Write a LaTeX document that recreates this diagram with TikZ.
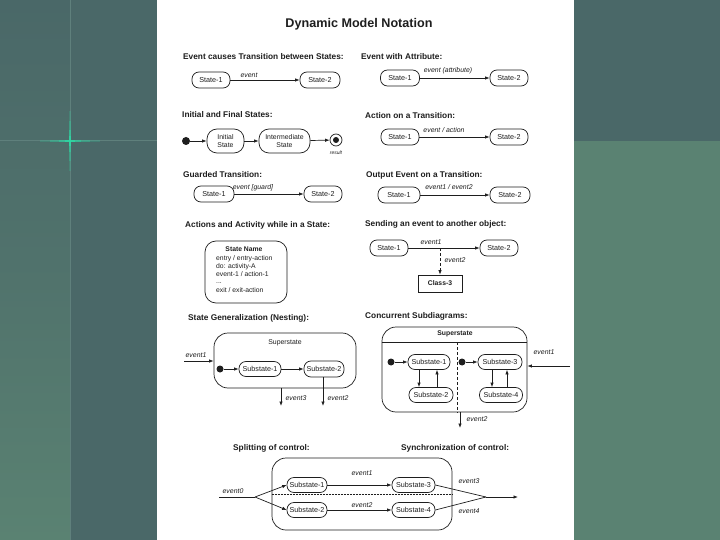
\documentclass[tikz,border=0pt]{standalone}
\usepackage{fontspec}
\setmainfont{Liberation Sans}
\usetikzlibrary{arrows.meta}
\definecolor{bgA}{HTML}{4A6868}
\definecolor{bgB}{HTML}{5A8272}
\definecolor{rule}{HTML}{5F807C}
\definecolor{glow}{HTML}{2FD8A4}
\definecolor{ink}{HTML}{1E1E1E}
\tikzset{
  st/.style={draw=ink, line width=0.7pt, rounded corners=7pt, minimum height=16pt,
    minimum width=38pt, inner sep=1pt, text=ink, font=\fontsize{7.2}{7.8}\selectfont, align=center},
  hdr/.style={anchor=west, inner sep=0pt, text=ink, font=\bfseries\fontsize{8.3}{9}\selectfont},
  lbl/.style={inner sep=0pt, text=ink, font=\itshape\fontsize{6.9}{7.4}\selectfont},
  body/.style={anchor=west, inner sep=0pt, text=ink, font=\fontsize{6.8}{7}\selectfont},
  arr/.style={draw=ink, line width=0.7pt, -{Latex[length=4.5pt,width=3.4pt]}},
  ln/.style={draw=ink, line width=0.7pt},
  bigbox/.style={draw=ink, line width=0.7pt, rounded corners=14pt},
  dotnode/.style={circle, fill=ink, inner sep=0pt, minimum size=7pt},
}
\begin{document}
\begin{tikzpicture}[x=1pt,y=-1pt]
\useasboundingbox (0,0) rectangle (720,540);
% background
\fill[bgA] (0,0) rectangle (720,540);
\shade[top color=bgA, bottom color=bgB, middle color=bgA!60!bgB] (0,0) rectangle (70,540);
\fill[bgB] (574,141) rectangle (720,540);
\draw[rule, line width=1pt] (70,0) -- (70,540);
\draw[rule, line width=1pt] (0,141) -- (157,141);
\foreach \L/\o in {30/0.2,20/0.3,11/0.45,5/0.75}{
  \draw[glow, line width=1.2pt, opacity=\o] (70-\L,141) -- (70+\L,141);
  \draw[glow, line width=1.2pt, opacity=\o] (70,141-\L) -- (70,141+\L);
}
\fill[white] (157,0) rectangle (574,540);

% title
\node[inner sep=0pt, text=ink, font=\bfseries\fontsize{12.6}{14}\selectfont] (title) at (359,24) {Dynamic Model Notation};

% 1 Event causes transition
\node[hdr] (h1) at (183,57) {Event causes Transition between States:};
\node[st] (s1a) at (211,80) {State-1};
\node[st, minimum width=40pt] (s1b) at (320,80) {State-2};
\draw[arr] (s1a) -- (s1b);
\node[lbl] (l1) at (249,75) {event};

% 2 Event with attribute
\node[hdr] (h2) at (361,57) {Event with Attribute:};
\node[st, minimum width=39pt] (s2a) at (400,78) {State-1};
\node[st] (s2b) at (509,78) {State-2};
\draw[arr] (s2a) -- (s2b);
\node[lbl] (l2) at (448,71) {event (attribute)};

% 3 Initial and final
\node[hdr] (h3) at (182,115) {Initial and Final States:};
\node[dotnode, minimum size=8pt] (ini) at (186,141) {};
\node[st, minimum width=37pt, minimum height=24pt, rounded corners=10pt, font=\fontsize{6.9}{7.4}\selectfont] (is) at (225.5,141) {Initial\\State};
\node[st, minimum width=51pt, minimum height=24pt, rounded corners=10pt, font=\fontsize{6.9}{7.4}\selectfont] (ms) at (284.5,141) {Intermediate\\State};
\node[circle, draw=ink, line width=0.7pt, minimum size=12pt, inner sep=0pt] (fin) at (336,140) {};
\node[dotnode, minimum size=6pt] (fin2) at (fin) {};
\node[lbl, font=\itshape\fontsize{5}{6}\selectfont] (res) at (336,153) {result};
\draw[arr] (ini) -- (is);
\draw[arr] (is) -- (ms);
\draw[arr] (ms) -- (fin);

% 4 Action on a transition
\node[hdr] (h4) at (365,116) {Action on a Transition:};
\node[st] (s4a) at (400,137) {State-1};
\node[st] (s4b) at (509,137) {State-2};
\draw[arr] (s4a) -- (s4b);
\node[lbl] (l4) at (444,130) {event / action};

% 5 Guarded transition
\node[hdr] (h5) at (183,175) {Guarded Transition:};
\node[st, minimum width=40pt] (s5a) at (214,194) {State-1};
\node[st] (s5b) at (323,194) {State-2};
\draw[arr] (s5a) -- (s5b);
\node[lbl] (l5) at (253,188) {event [guard]};

% 6 Output event
\node[hdr] (h6) at (366,175) {Output Event on a Transition:};
\node[st, minimum width=42pt] (s6a) at (399,195) {State-1};
\node[st, minimum width=40pt] (s6b) at (510,195) {State-2};
\draw[arr] (s6a) -- (s6b);
\node[lbl] (l6) at (449,187) {event1 / event2};

% 7 Actions and activity
\node[hdr] (h7) at (185,225) {Actions and Activity while in a State:};
\node[bigbox, rounded corners=11pt, minimum width=82pt, minimum height=62pt] (sn) at (246,272) {};
\node[inner sep=0pt, text=ink, font=\bfseries\fontsize{6.8}{7}\selectfont] (snt) at (244,249) {State Name};
\node[body] (a1) at (216,258.5) {entry / entry-action};
\node[body] (a2) at (216,266.5) {do: activity-A};
\node[body] (a3) at (216,274.5) {event-1 / action-1};
\node[body] (a4) at (216,283) {...};
\node[body] (a5) at (216,290.5) {exit / exit-action};

% 8 Sending an event
\node[hdr] (h8) at (365,224) {Sending an event to another object:};
\node[st] (s8a) at (389,248) {State-1};
\node[st] (s8b) at (499,248) {State-2};
\draw[arr] (s8a) -- (s8b);
\node[lbl] (l8a) at (431,242) {event1};
\node[draw=ink, line width=0.7pt, minimum width=44pt, minimum height=17pt, inner sep=1pt, text=ink, font=\bfseries\fontsize{6.8}{7}\selectfont] (cl) at (440,283.5) {Class-3};
\coordinate (snd) at (440,248);
\draw[arr, densely dashed] (snd) -- (cl);
\node[lbl] (l8b) at (455,260) {event2};

% 9 Nesting
\node[hdr] (h9) at (188,318) {State Generalization (Nesting):};
\node[bigbox, minimum width=142pt, minimum height=55pt] (sup) at (285,360.5) {};
\node[inner sep=0pt, text=ink, font=\fontsize{6.9}{7}\selectfont] (supt) at (285,343) {Superstate};
\coordinate (e1s) at (184,361);
\draw[arr] (e1s) -- (e1s -| sup.west);
\node[lbl] (l9a) at (196,355) {event1};
\node[dotnode] (d9) at (220,369) {};
\node[st, minimum width=42pt, minimum height=15pt] (n1) at (260,369) {Substate-1};
\node[st, minimum width=40pt, minimum height=16pt] (n2) at (324,369) {Substate-2};
\draw[arr] (d9) -- (n1);
\draw[arr] (n1) -- (n2);
\coordinate (e3e) at (281,406);
\draw[arr] (e3e |- sup.south) -- (e3e);
\node[lbl] (l9b) at (296,398) {event3};
\coordinate (e2e) at (323,406);
\draw[arr] (e2e |- n2.south) -- (e2e);
\node[lbl] (l9c) at (338,398) {event2};

% 10 Concurrent
\node[hdr] (h10) at (365,316) {Concurrent Subdiagrams:};
\node[bigbox, minimum width=145pt, minimum height=85pt] (csup) at (454.5,369.5) {};
\node[inner sep=0pt, text=ink, font=\bfseries\fontsize{6.8}{7}\selectfont] (csupt) at (455,334) {Superstate};
\draw[ln] (csup.west |- 0,342) -- (csup.east |- 0,342);
\coordinate (vtop) at (457,342);
\draw[ln, densely dashed] (vtop) -- (vtop |- csup.south);
\node[dotnode] (dl) at (391,362) {};
\node[st, minimum width=42pt, minimum height=15pt] (c1) at (429,362) {Substate-1};
\node[st, minimum width=44pt, minimum height=15pt] (c2) at (431,395) {Substate-2};
\draw[arr] (dl) -- (c1);
\draw[arr] ([xshift=-10pt]c1.south) -- ([xshift=-10pt]c1.south |- c2.north);
\draw[arr] ([xshift=8pt]c1.south |- c2.north) -- ([xshift=8pt]c1.south);
\node[dotnode] (dr) at (462,362) {};
\node[st, minimum width=44pt, minimum height=15pt] (c3) at (500,362) {Substate-3};
\node[st, minimum width=43pt, minimum height=15pt] (c4) at (501,395) {Substate-4};
\draw[arr] (dr) -- (c3);
\draw[arr] ([xshift=-8pt]c3.south) -- ([xshift=-8pt]c3.south |- c4.north);
\draw[arr] ([xshift=7pt]c3.south |- c4.north) -- ([xshift=7pt]c3.south);
\coordinate (ce1) at (570,366);
\draw[arr] (ce1) -- (ce1 -| csup.east);
\node[lbl] (l10a) at (544,352) {event1};
\coordinate (ce2) at (460,428);
\draw[arr] (ce2 |- csup.south) -- (ce2);
\node[lbl] (l10b) at (477,419) {event2};

% 11 Splitting / synchronization
\node[hdr] (h11a) at (233,448) {Splitting of control:};
\node[hdr] (h11b) at (401,448) {Synchronization of control:};
\node[bigbox, minimum width=180pt, minimum height=72pt] (sbox) at (362,494) {};
\draw[ink, line width=0.5pt, densely dotted] (sbox.west) -- (sbox.east);
\node[st, minimum width=40pt, minimum height=15pt] (p1) at (307,485) {Substate-1};
\node[st, minimum width=40pt, minimum height=15pt] (p2) at (307,510) {Substate-2};
\node[st, minimum width=43pt, minimum height=15pt] (p3) at (413.5,485) {Substate-3};
\node[st, minimum width=43pt, minimum height=15pt] (p4) at (413.5,510) {Substate-4};
\coordinate (e0s) at (219,497);
\coordinate (fork) at (255,497);
\draw[ln] (e0s) -- (fork);
\draw[arr] (fork) -- (p1.west);
\draw[arr] (fork) -- (p2.west);
\node[lbl] (l11a) at (233,491) {event0};
\draw[arr] (p1) -- (p3);
\node[lbl] (l11b) at (362,473) {event1};
\draw[arr] (p2) -- (p4);
\node[lbl] (l11c) at (362,505) {event2};
\coordinate (join) at (486,497);
\coordinate (jend) at (518,497);
\draw[ln] (p3.east) -- (join);
\draw[ln] (p4.east) -- (join);
\draw[arr] (join) -- (jend);
\node[lbl] (l11d) at (469,481) {event3};
\node[lbl] (l11e) at (469,511) {event4};
\end{tikzpicture}
\end{document}
